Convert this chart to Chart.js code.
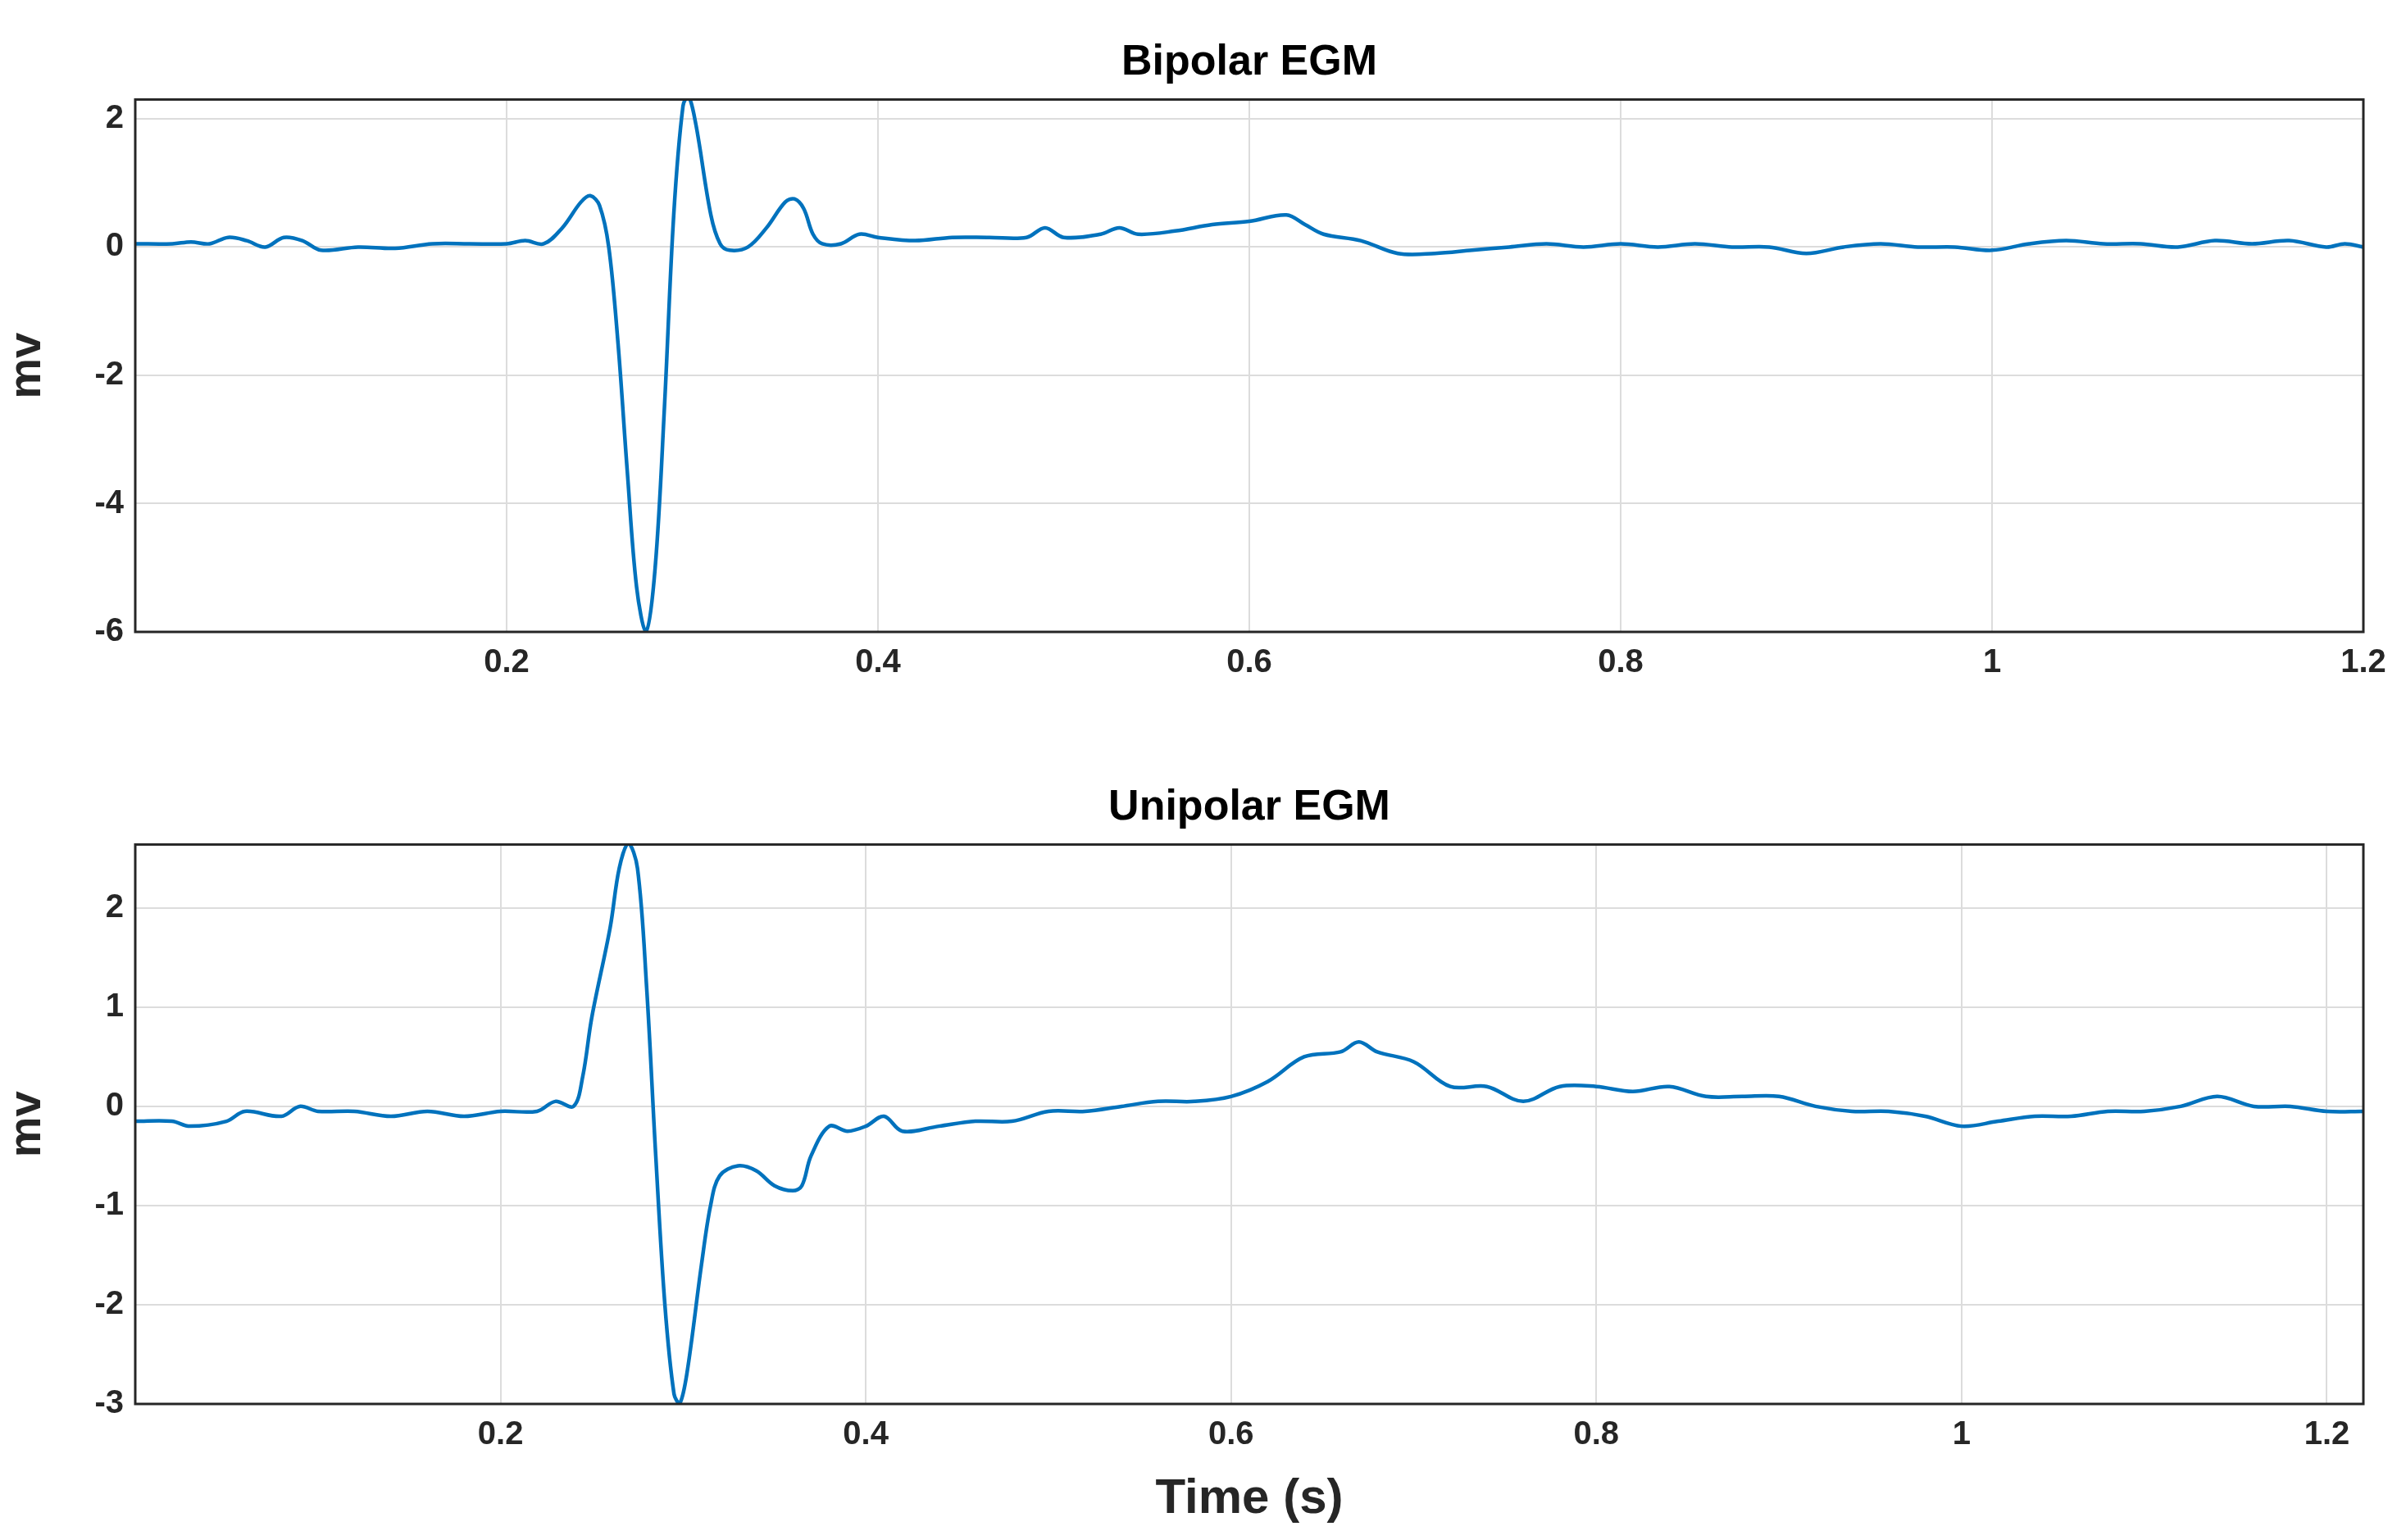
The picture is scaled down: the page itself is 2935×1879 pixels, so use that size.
<!DOCTYPE html>
<html>
<head>
<meta charset="utf-8">
<script src="https://cdn.jsdelivr.net/npm/chart.js@4/dist/chart.umd.min.js"></script>
<style>
  body { margin: 0; background: #fff; font-family: Arial, "Liberation Sans", sans-serif; }
  .box { position: absolute; left: 0; width: 2935px; }
  #b1 { top: 45px; height: 802px; }
  #b2 { top: 954px; height: 915px; }
</style>
</head>
<body>
<div class="box" id="b1"><canvas id="c1"></canvas></div>
<div class="box" id="b2"><canvas id="c2"></canvas></div>
<script>
// --- DATA ---
const bipolarTime = [0,0.02,0.03,0.04,0.05,0.06,0.07,0.08,0.09,0.1,0.12,0.14,0.16,0.18,0.2,0.21,0.22,0.23,0.24,0.245,0.25,0.255,0.26,0.265,0.27,0.275,0.28,0.285,0.29,0.295,0.298,0.302,0.31,0.315,0.32,0.33,0.34,0.35,0.355,0.36,0.365,0.37,0.38,0.39,0.4,0.42,0.44,0.46,0.48,0.49,0.5,0.52,0.53,0.54,0.56,0.58,0.6,0.62,0.63,0.64,0.66,0.68,0.7,0.72,0.74,0.76,0.78,0.8,0.82,0.84,0.86,0.88,0.9,0.92,0.94,0.96,0.98,1.0,1.02,1.04,1.06,1.08,1.1,1.12,1.14,1.16,1.18,1.19,1.2];
const bipolarMv = [0.05,0.05,0.08,0.05,0.15,0.1,0.0,0.15,0.1,-0.05,0.0,-0.02,0.05,0.05,0.05,0.1,0.05,0.3,0.7,0.8,0.65,0.0,-1.5,-3.5,-5.3,-6.0,-5.0,-2.5,0.5,2.2,2.35,1.9,0.5,0.05,-0.05,0.0,0.3,0.7,0.75,0.6,0.2,0.05,0.05,0.2,0.15,0.1,0.15,0.15,0.15,0.3,0.15,0.2,0.3,0.2,0.25,0.35,0.4,0.5,0.35,0.2,0.1,-0.1,-0.1,-0.05,0.0,0.05,0.0,0.05,0.0,0.05,0.0,0.0,-0.1,0.0,0.05,0.0,0.0,-0.05,0.05,0.1,0.05,0.05,0.0,0.1,0.05,0.1,0.0,0.05,0.0];

const unipolarTime = [0,0.02,0.03,0.05,0.06,0.08,0.09,0.1,0.12,0.14,0.16,0.18,0.2,0.22,0.23,0.24,0.245,0.25,0.26,0.265,0.27,0.275,0.28,0.285,0.29,0.295,0.298,0.302,0.31,0.315,0.32,0.33,0.34,0.35,0.36,0.365,0.37,0.38,0.39,0.4,0.41,0.42,0.44,0.46,0.48,0.5,0.52,0.54,0.56,0.58,0.6,0.62,0.64,0.66,0.67,0.68,0.7,0.72,0.74,0.76,0.78,0.8,0.82,0.84,0.86,0.88,0.9,0.92,0.94,0.96,0.98,1.0,1.02,1.04,1.06,1.08,1.1,1.12,1.14,1.16,1.18,1.2,1.22];
const unipolarMv = [-0.15,-0.15,-0.2,-0.15,-0.05,-0.1,0.0,-0.05,-0.05,-0.1,-0.05,-0.1,-0.05,-0.05,0.05,0.0,0.3,0.9,1.8,2.4,2.65,2.4,1.2,-0.5,-2.0,-2.9,-3.0,-2.7,-1.6,-1.0,-0.7,-0.6,-0.65,-0.8,-0.85,-0.8,-0.5,-0.2,-0.25,-0.2,-0.1,-0.25,-0.2,-0.15,-0.15,-0.05,-0.05,0.0,0.05,0.05,0.1,0.25,0.5,0.55,0.65,0.55,0.45,0.2,0.2,0.05,0.2,0.2,0.15,0.2,0.1,0.1,0.1,0.0,-0.05,-0.05,-0.1,-0.2,-0.15,-0.1,-0.1,-0.05,-0.05,0.0,0.1,0.0,0.0,-0.05,-0.05];

const xTicks = [0.2, 0.4, 0.6, 0.8, 1, 1.2];
const bipolarYTicks = [-6, -4, -2, 0, 2];
const unipolarYTicks = [-3, -2, -1, 0, 1, 2];

// --- HELPERS ---
const boxPlugin = {
    id: 'box',
    afterDraw(chart) {
        const { ctx, chartArea: a } = chart;
        ctx.save();
        ctx.strokeStyle = '#262626';
        ctx.lineWidth = 3;
        ctx.strokeRect(a.left, a.top, a.right - a.left, a.bottom - a.top);
        ctx.restore();
    }
};

const tickFont = { family: 'Arial, "Liberation Sans"', size: 40, weight: 'bold' };

const makeChart = (id, title, time, mv, xMax, yMin, yMax, yTicks, xTitle) => {
    const ctx = document.getElementById(id).getContext('2d');
    return new Chart(ctx, {
        type: 'line',
        data: { datasets: [{ data: time.map((t, i) => ({ x: t, y: mv[i] })), borderColor: '#0072BD', borderWidth: 4.5, pointRadius: 0, tension: 0.35, fill: false }] },
        options: {
            responsive: true, maintainAspectRatio: false, animation: false,
            layout: { padding: { right: 52, top: 0 } },
            plugins: {
                legend: { display: false }, tooltip: { enabled: false },
                title: { display: true, fullSize: false, text: title, color: '#000', font: { family: 'Arial, "Liberation Sans"', size: 52, weight: 'bold' }, padding: { top: 0, bottom: 14 } }
            },
            scales: {
                x: {
                    type: 'linear', min: 0, max: xMax,
                    afterBuildTicks: axis => { axis.ticks = xTicks.map(v => ({ value: v })); },
                    ticks: { color: '#262626', font: tickFont, padding: 14, maxRotation: 0, callback: v => String(v) },
                    grid: { color: '#dcdcdc', lineWidth: 2, drawTicks: false },
                    border: { display: false },
                    title: { display: !!xTitle, text: xTitle, color: '#262626', font: { family: 'Arial, "Liberation Sans"', size: 60, weight: 'bold' }, padding: { top: 4 } }
                },
                y: {
                    min: yMin, max: yMax,
                    afterBuildTicks: axis => { axis.ticks = yTicks.map(v => ({ value: v })); },
                    afterFit: axis => { axis.width = 165; },
                    ticks: { color: '#262626', font: tickFont, padding: 14 },
                    grid: { color: '#dcdcdc', lineWidth: 2, drawTicks: false },
                    border: { display: false },
                    title: { display: true, text: 'mv', color: '#262626', font: { family: 'Arial, "Liberation Sans"', size: 56, weight: 'bold' }, padding: 0 }
                }
            }
        },
        plugins: [boxPlugin]
    });
};

makeChart('c1', 'Bipolar EGM', bipolarTime, bipolarMv, 1.2, -6, 2.3, bipolarYTicks, '');
makeChart('c2', 'Unipolar EGM', unipolarTime, unipolarMv, 1.22, -3, 2.64, unipolarYTicks, 'Time (s)');
</script>
</body>
</html>
